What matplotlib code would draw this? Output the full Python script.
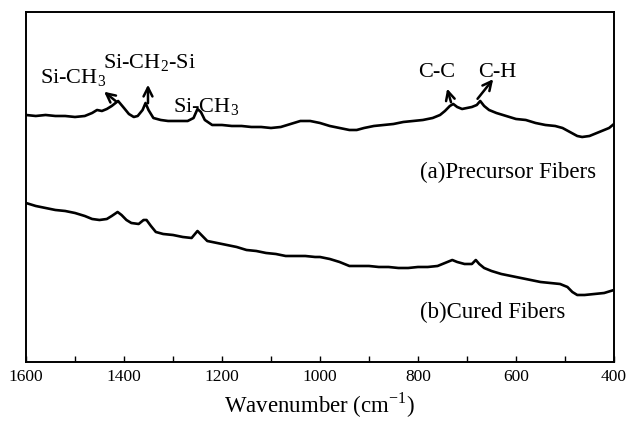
import matplotlib
matplotlib.use("Agg")
import matplotlib.pyplot as plt
from matplotlib.ticker import MultipleLocator

plt.rcParams['font.family'] = ['Liberation Serif', 'DejaVu Serif']
plt.rcParams['mathtext.fontset'] = 'custom'
plt.rcParams['mathtext.rm'] = 'Liberation Serif'

# FTIR spectra, intensity in arbitrary units
wn_precursor = [1600, 1580, 1560, 1540, 1520, 1500, 1480, 1465, 1455, 1445, 1435, 1425,
                1412, 1400, 1390, 1380, 1372, 1362, 1356, 1350, 1340, 1325, 1310, 1290,
                1270, 1258, 1250, 1243, 1235, 1220, 1200, 1180, 1160, 1140, 1120, 1100,
                1080, 1060, 1040, 1020, 1000, 980, 960, 940, 925, 910, 890, 870, 850,
                830, 810, 790, 770, 755, 745, 735, 728, 720, 710, 700, 690, 680, 673,
                665, 655, 640, 620, 600, 580, 560, 540, 520, 505, 490, 475, 465, 450,
                435, 420, 410, 400]
int_precursor = [247, 246, 247, 246, 246, 245, 246, 249, 252, 251, 253, 256,
                 261, 254, 248, 245, 246, 252, 259, 252, 244, 242, 241, 241,
                 241, 244, 253, 250, 242, 237, 237, 236, 236, 235, 235, 234,
                 235, 238, 241, 241, 239, 236, 234, 232, 232, 234, 236, 237, 238,
                 240, 241, 242, 244, 247, 251, 256, 258, 255, 253, 254, 255, 257, 261,
                 256, 252, 249, 246, 243, 242, 239, 237, 236, 234, 230, 226, 225, 226,
                 229, 232, 234, 238]

wn_cured = [1600, 1580, 1560, 1540, 1520, 1500, 1480, 1465, 1450, 1435, 1425, 1413,
            1405, 1395, 1385, 1370, 1360, 1354, 1345, 1335, 1320, 1300, 1280, 1262,
            1250, 1240, 1230, 1210, 1190, 1170, 1150, 1130, 1110, 1090, 1070, 1050,
            1030, 1010, 1000, 980, 960, 940, 920, 900, 880, 860, 840, 820, 800, 780,
            760, 745, 730, 720, 705, 690, 682, 675, 665, 650, 630, 610, 590, 570,
            550, 530, 510, 495, 485, 475, 460, 440, 420, 400]
int_cured = [159, 156, 154, 152, 151, 149, 146, 143, 142, 143, 146, 150,
             147, 142, 139, 138, 142, 142, 136, 130, 128, 127, 125, 124,
             131, 126, 121, 119, 117, 115, 112, 111, 109, 108, 106, 106,
             106, 105, 105, 103, 100, 96, 96, 96, 95, 95, 94, 94, 95, 95,
             96, 99, 102, 100, 98, 98, 102, 98, 94, 91, 88, 86, 84, 82,
             80, 79, 78, 75, 70, 67, 67, 68, 69, 72]

series_labels = ['(a)Precursor Fibers', '(b)Cured Fibers']
x_ticks = [1600, 1400, 1200, 1000, 800, 600, 400]

fig = plt.figure(figsize=(6.32, 4.22), dpi=100)
ax = fig.add_axes([0.0411, 0.1422, 0.9304, 0.8294])

ax.plot(wn_precursor, int_precursor, color='black', lw=1.9)
ax.plot(wn_cured, int_cured, color='black', lw=1.9)

ax.set_xlim(1600, 400)
ax.set_ylim(0, 350)
ax.set_xticks(x_ticks)
ax.xaxis.set_minor_locator(MultipleLocator(100))
ax.tick_params(axis='x', which='both', direction='in', length=4, width=1,
               labelsize=12.5, pad=5, top=False)
ax.set_yticks([])
for s in ax.spines.values():
    s.set_linewidth(1.4)

ax.set_xlabel('Wavenumber (cm$^{-1}$)', fontsize=16.5, labelpad=4)

txt = dict(fontsize=16, color='black')
arrow = dict(arrowstyle='->', lw=1.8, color='black', mutation_scale=16)

# band assignments
ax.text(1571, 279, 'Si-CH$_3$', ha='left', va='baseline', **txt)
ax.annotate('', xy=(1445, 272), xytext=(1412, 259), arrowprops=arrow)
ax.text(1443, 294, 'Si-CH$_2$-Si', ha='left', va='baseline', **txt)
ax.annotate('', xy=(1351, 280), xytext=(1351, 256), arrowprops=arrow)
ax.text(1300, 250, 'Si-CH$_3$', ha='left', va='baseline', **txt)
ax.text(800, 285, 'C-C', ha='left', va='baseline', **txt)
ax.annotate('', xy=(742, 276), xytext=(731, 257), arrowprops=arrow)
ax.text(678, 285, 'C-H', ha='left', va='baseline', **txt)
ax.annotate('', xy=(643, 285), xytext=(682, 261), arrowprops=arrow)

ax.text(796, 190, series_labels[0], ha='left', va='center', fontsize=16.5)
ax.text(796, 50, series_labels[1], ha='left', va='center', fontsize=16.5)

fig.savefig('out.png', dpi=100)
